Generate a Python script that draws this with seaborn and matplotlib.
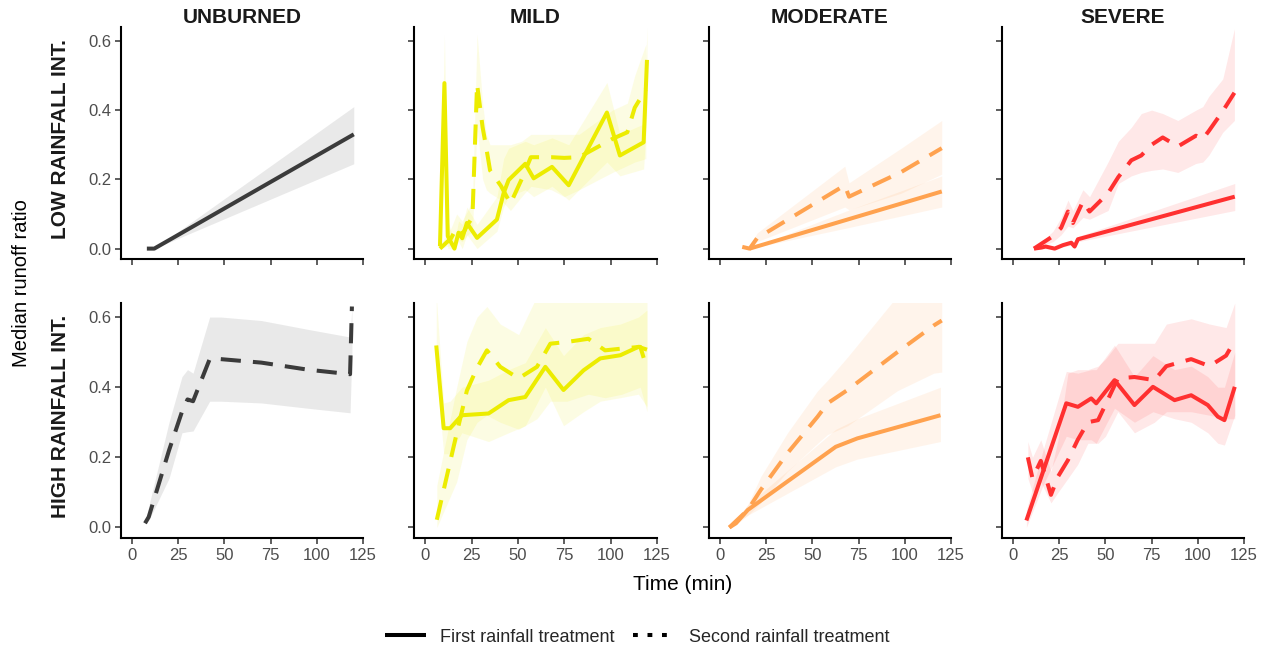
import numpy as np
import pandas as pd
import matplotlib
matplotlib.use("Agg")
import matplotlib.pyplot as plt
import seaborn as sns
from matplotlib.lines import Line2D

# ---------------- data ----------------
severities = ["UNBURNED", "MILD", "MODERATE", "SEVERE"]
intensities = ["LOW RAINFALL INT.", "HIGH RAINFALL INT."]
treatments = ["First rainfall treatment", "Second rainfall treatment"]
colors = {"UNBURNED": "#3b3b3b", "MILD": "#ecec00", "MODERATE": "#ffa24f", "SEVERE": "#ff3030"}
x_ticks = [0, 25, 50, 75, 100, 125]
y_ticks = [0.0, 0.2, 0.4, 0.6]

# UNBURNED, low intensity (first treatment only)
unb_low_1_t = [8, 12, 120]
unb_low_1_y = [0.0, 0.0, 0.33]
unb_low_1_lo = [0.0, 0.0, 0.245]
unb_low_1_hi = [0.0, 0.0, 0.41]

# UNBURNED, high intensity (second treatment only)
unb_high_2_t = [7, 9, 20, 27, 30, 33, 42, 48, 70, 95, 118, 119]
unb_high_2_y = [0.012, 0.03, 0.22, 0.33, 0.365, 0.36, 0.48, 0.48, 0.47, 0.45, 0.437, 0.63]
unb_high_2_lo = [0.012, 0.02, 0.14, 0.27, 0.273, 0.275, 0.36, 0.36, 0.355, 0.34, 0.327, 0.50]
unb_high_2_hi = [0.012, 0.06, 0.30, 0.43, 0.45, 0.44, 0.60, 0.60, 0.59, 0.565, 0.543, 0.63]

# MILD, low intensity
mild_low_1_t = [8, 10.4, 12.2, 15.8, 18, 20, 22.5, 28, 38.7, 42.3, 45, 54, 58.5, 68.4, 77.4, 98, 105, 117.8, 119.6]
mild_low_1_y = [0.007, 0.478, 0.036, 0.0, 0.046, 0.03, 0.074, 0.031, 0.084, 0.16, 0.198, 0.245, 0.203, 0.236, 0.183, 0.393, 0.269, 0.307, 0.545]
mild_low_1_lo = [0.0, 0.40, 0.0, 0.0, 0.02, 0.0, 0.04, 0.0, 0.05, 0.12, 0.15, 0.17, 0.15, 0.18, 0.14, 0.25, 0.21, 0.23, 0.40]
mild_low_1_hi = [0.02, 0.62, 0.08, 0.02, 0.08, 0.07, 0.12, 0.07, 0.15, 0.26, 0.29, 0.31, 0.30, 0.32, 0.30, 0.48, 0.33, 0.36, 0.64]
mild_low_2_t = [8, 14, 17, 20, 23, 25.5, 28, 31, 33, 35, 41, 46, 52, 57, 68, 75, 83, 101, 109, 113, 119]
mild_low_2_y = [0.0, 0.03, 0.06, 0.04, 0.07, 0.09, 0.475, 0.35, 0.29, 0.226, 0.18, 0.13, 0.20, 0.264, 0.264, 0.262, 0.264, 0.317, 0.336, 0.407, 0.46]
mild_low_2_lo = [0.0, 0.01, 0.03, 0.02, 0.04, 0.05, 0.35, 0.20, 0.17, 0.16, 0.14, 0.11, 0.15, 0.18, 0.17, 0.15, 0.17, 0.22, 0.24, 0.25, 0.26]
mild_low_2_hi = [0.01, 0.06, 0.10, 0.08, 0.11, 0.14, 0.62, 0.42, 0.33, 0.30, 0.30, 0.30, 0.31, 0.33, 0.33, 0.33, 0.33, 0.40, 0.42, 0.50, 0.59]

# MODERATE, low intensity
mod_low_1_t = [16, 69, 120]
mod_low_1_y = [0.0, 0.084, 0.165]
mod_low_1_lo = [0.0, 0.06, 0.12]
mod_low_1_hi = [0.0, 0.11, 0.21]
mod_low_2_t = [12, 16, 20, 67.5, 69.8, 98, 120]
mod_low_2_y = [0.005, 0.0, 0.03, 0.183, 0.15, 0.221, 0.29]
mod_low_2_lo = [0.005, 0.0, 0.02, 0.12, 0.112, 0.16, 0.215]
mod_low_2_hi = [0.005, 0.005, 0.045, 0.238, 0.19, 0.29, 0.37]

# SEVERE, low intensity
sev_low_1_t = [11.3, 15.3, 17.6, 22.5, 27, 31.5, 33.3, 35.1, 120]
sev_low_1_y = [0.0, 0.003, 0.006, 0.0, 0.01, 0.017, 0.006, 0.027, 0.15]
sev_low_1_lo = [0.0, 0.0, 0.0, 0.0, 0.005, 0.01, 0.0, 0.02, 0.11]
sev_low_1_hi = [0.0, 0.008, 0.012, 0.005, 0.015, 0.025, 0.012, 0.035, 0.188]
sev_low_2_t = [11.3, 21.6, 26, 29.7, 32.4, 37.8, 41.4, 51.4, 57, 64, 69.4, 75, 81, 89.2, 99, 102.7, 106, 113.5, 119.8]
sev_low_2_y = [0.0, 0.036, 0.06, 0.107, 0.074, 0.136, 0.107, 0.16, 0.207, 0.255, 0.269, 0.30, 0.321, 0.295, 0.326, 0.317, 0.34, 0.397, 0.45]
sev_low_2_lo = [0.0, 0.02, 0.04, 0.065, 0.06, 0.09, 0.085, 0.11, 0.188, 0.21, 0.22, 0.226, 0.23, 0.22, 0.246, 0.25, 0.27, 0.336, 0.37]
sev_low_2_hi = [0.0, 0.05, 0.09, 0.14, 0.11, 0.17, 0.15, 0.25, 0.31, 0.35, 0.39, 0.40, 0.39, 0.37, 0.40, 0.41, 0.44, 0.49, 0.635]

# MILD, high intensity
mild_high_1_t = [6, 10, 13.5, 19.8, 34.2, 45, 54, 64.8, 74.6, 85.4, 94.4, 105.2, 115, 119.6]
mild_high_1_y = [0.519, 0.283, 0.283, 0.32, 0.325, 0.363, 0.372, 0.458, 0.392, 0.448, 0.482, 0.491, 0.515, 0.507]
mild_high_1_lo = [0.45, 0.21, 0.21, 0.27, 0.245, 0.27, 0.29, 0.40, 0.29, 0.33, 0.36, 0.37, 0.38, 0.344]
mild_high_1_hi = [0.66, 0.355, 0.36, 0.40, 0.42, 0.45, 0.47, 0.57, 0.49, 0.55, 0.57, 0.58, 0.60, 0.62]
mild_high_2_t = [6.3, 17, 22.5, 28, 33.3, 40.5, 50.4, 60.3, 67.5, 76.5, 88, 97, 106, 116, 119.6]
mild_high_2_y = [0.022, 0.268, 0.39, 0.455, 0.505, 0.458, 0.425, 0.458, 0.524, 0.529, 0.538, 0.505, 0.51, 0.515, 0.453]
mild_high_2_lo = [0.0, 0.13, 0.25, 0.30, 0.32, 0.30, 0.28, 0.31, 0.36, 0.36, 0.38, 0.37, 0.38, 0.40, 0.33]
mild_high_2_hi = [0.12, 0.40, 0.53, 0.60, 0.63, 0.58, 0.55, 0.66, 0.66, 0.66, 0.66, 0.66, 0.66, 0.66, 0.66]

# MODERATE, high intensity
mod_high_1_t = [5, 8.6, 15, 62.6, 74.3, 119.3]
mod_high_1_y = [0.0, 0.012, 0.05, 0.23, 0.254, 0.32]
mod_high_1_lo = [0.0, 0.008, 0.035, 0.173, 0.195, 0.245]
mod_high_1_hi = [0.0, 0.016, 0.065, 0.28, 0.31, 0.40]
mod_high_2_t = [5, 15, 22, 36.5, 52.8, 58.2, 69, 96, 115.7, 120]
mod_high_2_y = [0.0, 0.05, 0.107, 0.212, 0.316, 0.354, 0.392, 0.50, 0.576, 0.59]
mod_high_2_lo = [0.0, 0.035, 0.07, 0.16, 0.24, 0.265, 0.29, 0.39, 0.44, 0.443]
mod_high_2_hi = [0.0, 0.065, 0.145, 0.27, 0.39, 0.42, 0.486, 0.66, 0.66, 0.66]

# SEVERE, high intensity
sev_high_1_t = [7.2, 16.2, 28.8, 35.1, 42.3, 45, 54.9, 65.7, 75.7, 87.4, 96.4, 105.4, 110.8, 114.4, 120]
sev_high_1_y = [0.02, 0.159, 0.354, 0.344, 0.368, 0.354, 0.42, 0.349, 0.401, 0.363, 0.377, 0.349, 0.316, 0.306, 0.401]
sev_high_1_lo = [0.0, 0.12, 0.26, 0.25, 0.25, 0.24, 0.34, 0.30, 0.33, 0.31, 0.30, 0.27, 0.24, 0.235, 0.32]
sev_high_1_hi = [0.05, 0.22, 0.445, 0.44, 0.45, 0.45, 0.52, 0.43, 0.49, 0.45, 0.46, 0.43, 0.40, 0.40, 0.50]
sev_high_2_t = [8, 10.5, 15, 20.5, 24.3, 29.7, 35, 40.5, 46, 50, 56.7, 65.7, 76.5, 83, 96.4, 106.3, 115.3, 120]
sev_high_2_y = [0.2, 0.14, 0.19, 0.093, 0.145, 0.192, 0.25, 0.30, 0.306, 0.35, 0.425, 0.429, 0.42, 0.46, 0.48, 0.46, 0.49, 0.533]
sev_high_2_lo = [0.14, 0.10, 0.13, 0.07, 0.10, 0.14, 0.18, 0.24, 0.24, 0.26, 0.33, 0.27, 0.30, 0.33, 0.33, 0.32, 0.31, 0.31]
sev_high_2_hi = [0.245, 0.20, 0.25, 0.16, 0.25, 0.44, 0.45, 0.45, 0.46, 0.48, 0.525, 0.525, 0.525, 0.58, 0.595, 0.58, 0.57, 0.64]

series = [
    ("UNBURNED", 0, 0, unb_low_1_t, unb_low_1_y, unb_low_1_lo, unb_low_1_hi),
    ("UNBURNED", 1, 1, unb_high_2_t, unb_high_2_y, unb_high_2_lo, unb_high_2_hi),
    ("MILD", 0, 0, mild_low_1_t, mild_low_1_y, mild_low_1_lo, mild_low_1_hi),
    ("MILD", 0, 1, mild_low_2_t, mild_low_2_y, mild_low_2_lo, mild_low_2_hi),
    ("MODERATE", 0, 0, mod_low_1_t, mod_low_1_y, mod_low_1_lo, mod_low_1_hi),
    ("MODERATE", 0, 1, mod_low_2_t, mod_low_2_y, mod_low_2_lo, mod_low_2_hi),
    ("SEVERE", 0, 0, sev_low_1_t, sev_low_1_y, sev_low_1_lo, sev_low_1_hi),
    ("SEVERE", 0, 1, sev_low_2_t, sev_low_2_y, sev_low_2_lo, sev_low_2_hi),
    ("MILD", 1, 0, mild_high_1_t, mild_high_1_y, mild_high_1_lo, mild_high_1_hi),
    ("MILD", 1, 1, mild_high_2_t, mild_high_2_y, mild_high_2_lo, mild_high_2_hi),
    ("MODERATE", 1, 0, mod_high_1_t, mod_high_1_y, mod_high_1_lo, mod_high_1_hi),
    ("MODERATE", 1, 1, mod_high_2_t, mod_high_2_y, mod_high_2_lo, mod_high_2_hi),
    ("SEVERE", 1, 0, sev_high_1_t, sev_high_1_y, sev_high_1_lo, sev_high_1_hi),
    ("SEVERE", 1, 1, sev_high_2_t, sev_high_2_y, sev_high_2_lo, sev_high_2_hi),
]

frames = []
for sev, r, tr, t, y, lo, hi in series:
    frames.append(pd.DataFrame({"severity": sev, "intensity": intensities[r],
                                "treatment": treatments[tr], "time": t,
                                "ratio": y, "lo": lo, "hi": hi}))
df = pd.concat(frames, ignore_index=True)

# ---------------- style ----------------
sns.set_theme(style="ticks")
plt.rcParams["font.family"] = ["Liberation Sans", "DejaVu Sans"]
plt.rcParams["lines.solid_capstyle"] = "butt"
plt.rcParams["lines.dash_capstyle"] = "butt"

W, H = 1265, 648
fig = plt.figure(figsize=(W / 100, H / 100), dpi=100)
cols_px = [(121, 363), (414, 657), (709, 951), (1002, 1244)]
rows_px = [(27, 259), (303, 538)]

LW = 2.9
dash_map = {treatments[0]: "", treatments[1]: (5, 3)}

for r, (top, bot) in enumerate(rows_px):
    for c, (left, right) in enumerate(cols_px):
        ax = fig.add_axes([left / W, 1 - bot / H, (right - left) / W, (bot - top) / H])
        sev = severities[c]
        col = colors[sev]
        sub = df[(df.severity == sev) & (df.intensity == intensities[r])]
        for tr in treatments:
            s = sub[sub.treatment == tr]
            if len(s):
                ax.fill_between(s.time, s.lo, s.hi, color=col, alpha=0.11, lw=0)
        if len(sub):
            sns.lineplot(data=sub, x="time", y="ratio", style="treatment",
                         style_order=[t for t in treatments if t in set(sub.treatment)],
                         dashes=dash_map, color=col, linewidth=LW, estimator=None,
                         legend=False, ax=ax)
        ax.set_xlim(-6, 125)
        ax.set_ylim(-0.03, 0.64)
        ax.set_xticks(x_ticks)
        ax.set_yticks(y_ticks)
        ax.set_xlabel("")
        ax.set_ylabel("")
        for sp in ["top", "right"]:
            ax.spines[sp].set_visible(False)
        for sp in ["left", "bottom"]:
            ax.spines[sp].set_linewidth(1.5)
            ax.spines[sp].set_color("black")
        ax.tick_params(axis="both", direction="out", length=4, width=1.1,
                       color="#333333", labelcolor="#4d4d4d", labelsize=12, pad=3)
        if c == 0:
            ax.set_yticklabels([f"{v:.1f}" for v in y_ticks])
        else:
            ax.set_yticklabels([])
        if r == 1:
            ax.set_xticklabels([str(v) for v in x_ticks])
        else:
            ax.set_xticklabels([])
        if r == 0:
            ax.set_title(sev, fontsize=15, fontweight="bold", color="#1a1a1a", pad=3)

# row strip labels
for r, (top, bot) in enumerate(rows_px):
    fig.text(61 / W, 1 - ((top + bot) / 2 - 4) / H, intensities[r], rotation=90,
             ha="center", va="center", fontsize=15, fontweight="bold", color="#1a1a1a")

fig.text(22 / W, 1 - 283 / H, "Median runoff ratio", rotation=90, ha="center",
         va="center", fontsize=14.5, color="black")
fig.text(683 / W, 1 - 584 / H, "Time (min)", ha="center", va="center",
         fontsize=15, color="black")

handles = [Line2D([], [], color="black", lw=LW, solid_capstyle="butt"),
           Line2D([], [], color="black", lw=LW, dashes=(1.2, 2.4))]
fig.legend(handles, treatments, loc="center", bbox_to_anchor=(637 / W, 1 - 637 / H),
           ncol=2, frameon=False, fontsize=13, handlelength=2.3, handletextpad=0.8,
           columnspacing=1.0)

fig.savefig("out.png", dpi=100)
